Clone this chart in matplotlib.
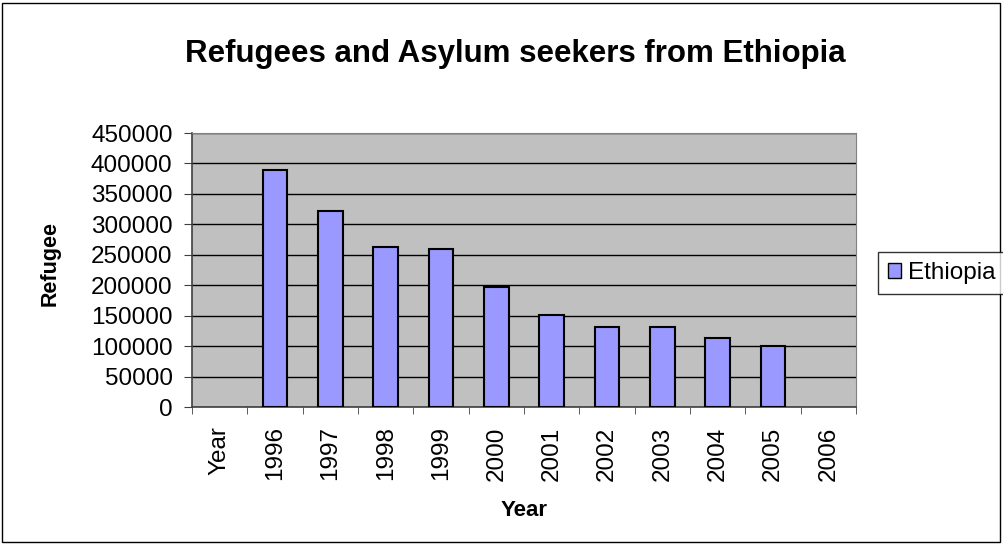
import numpy as np
from matplotlib import pyplot as plt
from matplotlib.patches import Rectangle, Patch

# data
categories = ['Year', '1996', '1997', '1998', '1999', '2000', '2001', '2002', '2003', '2004', '2005', '2006']
refugees = [0, 390000, 322000, 263000, 260000, 197000, 151000, 131000, 131000, 114000, 101000, 0]
y_ticks = [0, 50000, 100000, 150000, 200000, 250000, 300000, 350000, 400000, 450000]

plt.rcParams['font.family'] = ['Liberation Sans', 'DejaVu Sans']

W, H = 1004, 544
fig = plt.figure(figsize=(W / 100, H / 100), dpi=100)
ax = fig.add_axes([192 / W, 1 - 407 / H, 664 / W, 274 / H])

# outer border
fig.patches.append(Rectangle((2 / W, 2 / H), 998 / W, 539 / H, transform=fig.transFigure,
                             fill=False, edgecolor='black', linewidth=1))

x = np.arange(len(categories))
bars = ax.bar(x, refugees, width=0.45, color='#9999FF', edgecolor='black', linewidth=1.5,
              zorder=3)
for b, v in zip(bars, refugees):
    if v == 0:
        b.set_visible(False)

ax.set_facecolor('#C0C0C0')
ax.set_xlim(-0.5, len(categories) - 0.5)
ax.set_ylim(0, 450000)
ax.set_yticks(y_ticks)
ax.set_yticklabels([str(v) for v in y_ticks], fontsize=17.5)
ax.yaxis.grid(True, color='black', linewidth=1, zorder=1)
ax.set_axisbelow(True)

# category labels at centres, tick marks at boundaries
ax.set_xticks(x)
ax.set_xticklabels(categories, rotation=90, fontsize=17.5)
ax.tick_params(axis='x', length=0, pad=14)
ax.set_xticks(np.arange(-0.5, len(categories)), minor=True)
ax.tick_params(axis='x', which='minor', length=5, color='#404040')
ax.tick_params(axis='y', length=6, color='#404040', pad=8)

for side in ['top', 'right']:
    ax.spines[side].set_color('#808080')
for side in ['left', 'bottom']:
    ax.spines[side].set_color('#404040')
    ax.spines[side].set_linewidth(1.2)

fig.text(50 / W, 1 - 263 / H, 'Refugee', rotation=90, ha='center', va='center',
         fontsize=15.5, fontweight='bold')
fig.text(524 / W, 1 - 510 / H, 'Year', ha='center', va='center',
         fontsize=16, fontweight='bold')
fig.text(515 / W, 1 - 54 / H, 'Refugees and Asylum seekers from Ethiopia',
         ha='center', va='center', fontsize=22.5, fontweight='bold')

handle = Patch(facecolor='#9999FF', edgecolor='black', linewidth=1)
leg = fig.legend(handles=[handle], labels=['Ethiopia'], loc='center left',
                 bbox_to_anchor=(878 / W, 1 - 273 / H), fontsize=17.5, frameon=True,
                 fancybox=False, edgecolor='black', handlelength=0.55, handleheight=0.55,
                 handletextpad=0.3, borderpad=0.4, borderaxespad=0)
leg.get_frame().set_linewidth(1)

fig.savefig('out.png', dpi=100)
